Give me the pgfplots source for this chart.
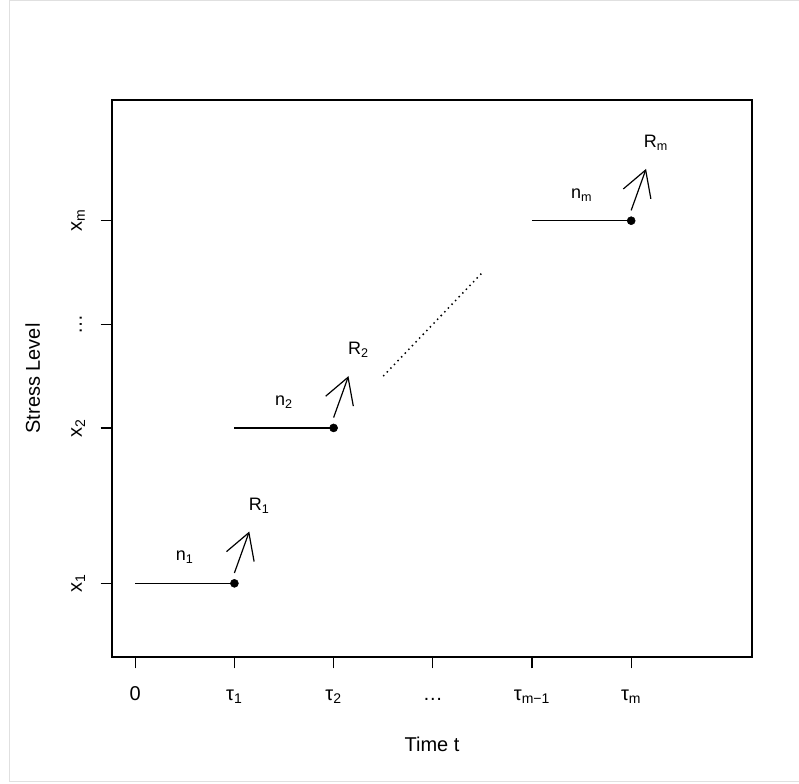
\documentclass[border=0pt]{standalone}
\usepackage{fontspec}
\setmainfont{Liberation Sans}
\usepackage{pgfplots}
\pgfplotsset{compat=1.18}
\usetikzlibrary{arrows.meta}

\newcommand{\lab}{\fontsize{13.5}{16}\selectfont}

\begin{document}
\begin{tikzpicture}
\begin{axis}[
    name=ax,
    scale only axis,
    width=480pt, height=417.75pt,
    xmin=-0.234, xmax=6.218,
    ymin=0.289, ymax=5.665,
    axis line style={line width=0.9pt},
    xtick={0,1,2,3,4,5},
    xticklabels={0, τ\textsubscript{1}, τ\textsubscript{2}, …, τ\textsubscript{m−1}, τ\textsubscript{m}},
    ytick={1,2.5,3.5,4.5},
    yticklabels={x\textsubscript{1}, x\textsubscript{2}, …, x\textsubscript{m}},
    tick align=outside,
    xtick pos=bottom, ytick pos=left,
    major tick length=8.5pt,
    tick style={line width=0.9pt, black},
    ticklabel style={font=\fontsize{15}{18}\selectfont},
    xticklabel style={anchor=base},
    xticklabel shift=24pt,
    yticklabel style={rotate=90, anchor=base},
    yticklabel shift=14pt,
    xlabel={Time t},
    ylabel={Stress Level},
    label style={font=\fontsize{15}{18}\selectfont},
    xlabel style={at={(axis description cs:0.5,-0.17)}, anchor=base},
    ylabel style={at={(axis description cs:-0.1125,0.5)}, rotate=0, anchor=base},
]

% horizontal steps
\addplot[black, line width=0.9pt] coordinates {(0,1) (1,1)};
\addplot[black, line width=0.9pt] coordinates {(1,2.5) (2,2.5)};
\addplot[black, line width=0.9pt] coordinates {(4,4.5) (5,4.5)};

% failure points
\addplot[only marks, mark=*, mark size=3pt, black] coordinates {(1,1) (2,2.5) (5,4.5)};

% removal arrows
\addplot[black, line width=0.9pt, -{Straight Barb[angle=60:22pt]}] coordinates {(1,1.1) (1.15,1.5)};
\addplot[black, line width=0.9pt, -{Straight Barb[angle=60:22pt]}] coordinates {(2,2.6) (2.15,3.0)};
\addplot[black, line width=0.9pt, -{Straight Barb[angle=60:22pt]}] coordinates {(5,4.6) (5.15,5.0)};

% dotted continuation
\addplot[black, line width=1.1pt, dash pattern=on 1.1pt off 2.8pt] coordinates {(2.5,3) (3.5,4)};

\node[font=\lab] at (axis cs:0.5,1.25) {n\textsubscript{1}};
\node[font=\lab] at (axis cs:1.5,2.75) {n\textsubscript{2}};
\node[font=\lab] at (axis cs:4.5,4.75) {n\textsubscript{m}};
\node[font=\lab] at (axis cs:1.25,1.75) {R\textsubscript{1}};
\node[font=\lab] at (axis cs:2.25,3.25) {R\textsubscript{2}};
\node[font=\lab] at (axis cs:5.25,5.25) {R\textsubscript{m}};
\end{axis}

\pgfresetboundingbox
\coordinate (SW) at ([shift={(-84pt,-94.5pt)}]ax.south west);
\coordinate (NE) at ([shift={(35.25pt,75pt)}]ax.north east);
\path[use as bounding box] (SW) rectangle (NE);
\coordinate (FTR) at ([yshift=-0.75pt]NE);
\coordinate (FBL) at ([shift={(7.5pt,1.5pt)}]SW);
\draw[black!12, line width=0.75pt]
  (FTR) -- (FBL |- FTR) -- (FBL) -- (FBL -| FTR);
\end{tikzpicture}
\end{document}
